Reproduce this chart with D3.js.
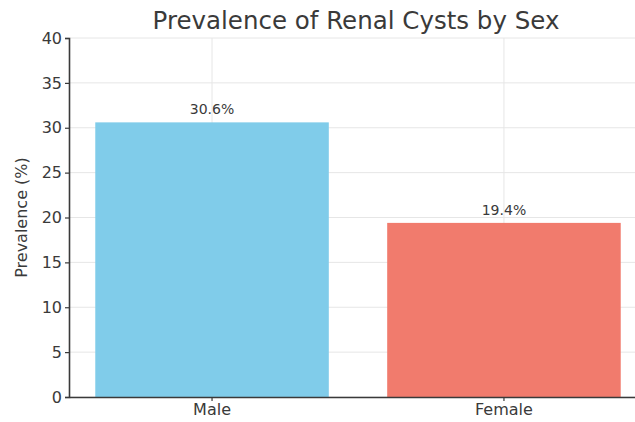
<!DOCTYPE html>
<html>
<head>
<meta charset="utf-8">
<script src="https://cdn.jsdelivr.net/npm/d3@7"></script>
<style>
  body { margin: 0; background: #fff; }
  text { font-family: 'DejaVu Sans', sans-serif; fill: #3a3a3a; }
</style>
</head>
<body>
<div id="chart"></div>
<script>
const categories = ['Male', 'Female']
const prevalence = [30.6, 19.4]
const barColors = ['#80CCEA', '#F17B6D']
const yTicks = [0, 5, 10, 15, 20, 25, 30, 35, 40]

const width = 635
const height = 422
const margin = { top: 38, left: 69, right: -12, bottom: 25 }

const svg = d3.select('#chart')
  .append('svg')
  .attr('width', width)
  .attr('height', height)

const x = d3.scaleBand()
  .domain(categories)
  .range([margin.left, width - margin.right])
  .paddingInner(0.2)
  .paddingOuter(0.09)

const y = d3.scaleLinear()
  .domain([0, 40])
  .range([height - margin.bottom, margin.top])

// grid
svg.append('g')
  .selectAll('line')
  .data(yTicks)
  .enter()
  .append('line')
  .attr('x1', margin.left)
  .attr('x2', width)
  .attr('y1', d => y(d))
  .attr('y2', d => y(d))
  .attr('stroke', '#e6e6e6')
  .attr('stroke-width', 1)

svg.append('g')
  .selectAll('line')
  .data(categories)
  .enter()
  .append('line')
  .attr('x1', d => x(d) + x.bandwidth() / 2)
  .attr('x2', d => x(d) + x.bandwidth() / 2)
  .attr('y1', y(40))
  .attr('y2', y(0))
  .attr('stroke', '#e6e6e6')
  .attr('stroke-width', 1)

// bars
svg.append('g')
  .selectAll('rect')
  .data(categories)
  .enter()
  .append('rect')
  .attr('x', d => x(d))
  .attr('width', x.bandwidth())
  .attr('y', (d, i) => y(prevalence[i]))
  .attr('height', (d, i) => y(0) - y(prevalence[i]))
  .attr('fill', (d, i) => barColors[i])

// value labels
svg.append('g')
  .selectAll('text')
  .data(categories)
  .enter()
  .append('text')
  .attr('x', d => x(d) + x.bandwidth() / 2)
  .attr('y', (d, i) => y(prevalence[i]) - 8)
  .attr('text-anchor', 'middle')
  .style('font-size', '14px')
  .text((d, i) => prevalence[i].toFixed(1) + '%')

// axes
const yAxis = svg.append('g')
  .attr('transform', `translate(${margin.left},0)`)
  .call(d3.axisLeft(y).tickValues(yTicks).tickSize(4).tickPadding(3))
yAxis.select('.domain').attr('stroke', '#3a3a3a').attr('stroke-width', 1.6)
yAxis.selectAll('.tick line').attr('stroke', '#3a3a3a').attr('stroke-width', 1.2)
yAxis.selectAll('.tick text').style('font-size', '16px').attr('fill', '#3a3a3a')

const xAxis = svg.append('g')
  .attr('transform', `translate(0,${y(0)})`)
  .call(d3.axisBottom(x).tickSize(4).tickPadding(3).tickSizeOuter(0))
xAxis.select('.domain').attr('stroke', '#3a3a3a').attr('stroke-width', 1.6)
xAxis.selectAll('.tick line').attr('stroke', '#3a3a3a').attr('stroke-width', 1.2)
xAxis.selectAll('.tick text').style('font-size', '16px').attr('fill', '#3a3a3a')

// title
svg.append('text')
  .attr('x', 356)
  .attr('y', 29)
  .attr('text-anchor', 'middle')
  .style('font-size', '24.5px')
  .text('Prevalence of Renal Cysts by Sex')

// y label
svg.append('text')
  .attr('transform', `translate(27,${(y(0) + y(40)) / 2}) rotate(-90)`)
  .attr('text-anchor', 'middle')
  .style('font-size', '16px')
  .text('Prevalence (%)')
</script>
</body>
</html>
